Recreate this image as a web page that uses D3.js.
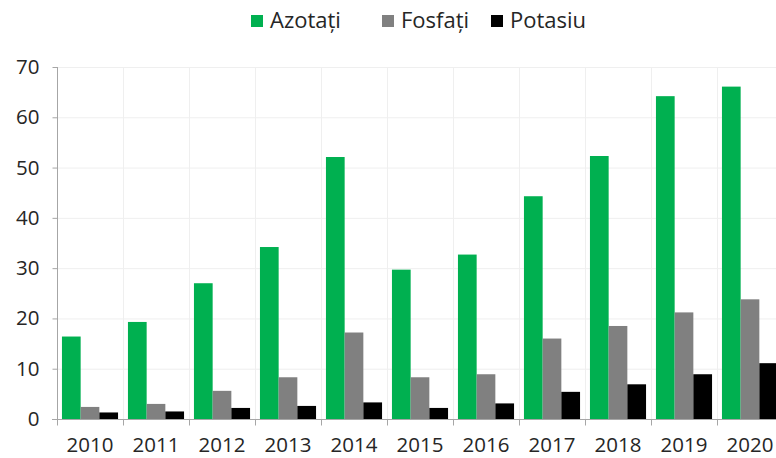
<!doctype html>
<html lang="ro">
<head>
    <meta charset="utf-8">
    <title>Îngrășăminte</title>
    <script src="https://d3js.org/d3.v7.min.js"></script>
    <style>
        body { margin: 0; background: #fff; }
        svg { display: block; font-family: "Open Sans", sans-serif; }
    </style>
</head>
<body>
    <script>
       // data
       let years = ['2010', '2011', '2012', '2013', '2014', '2015', '2016', '2017', '2018', '2019', '2020'];
       let seriesNames = ['Azotați', 'Fosfați', 'Potasiu'];
       let azotati = [16.4, 19.3, 27.0, 34.2, 52.1, 29.7, 32.7, 44.3, 52.3, 64.2, 66.1];
       let fosfati = [2.4, 3.0, 5.6, 8.3, 17.2, 8.3, 8.9, 16.0, 18.5, 21.2, 23.8];
       let potasiu = [1.3, 1.5, 2.2, 2.6, 3.3, 2.2, 3.1, 5.4, 6.9, 8.9, 11.1];
       let yTicks = [0, 10, 20, 30, 40, 50, 60, 70];
       let colors = ['#00b050', '#808080', '#000000'];

       let width = 776, height = 458;
       let plotLeft = 57, plotTop = 67, plotBottom = 419;
       let step = 66;

       let svg = d3.select('body').append('svg')
                   .attr('width', width).attr('height', height);

       let x = d3.scaleBand().domain(years)
                 .range([plotLeft, plotLeft + step * years.length])
                 .paddingInner(0).paddingOuter(0);
       let inner = d3.scaleBand().domain(seriesNames)
                 .range([0, x.bandwidth()]).paddingOuter(0.265).paddingInner(0);
       let y = d3.scaleLinear().domain([0, 70]).range([plotBottom, plotTop]);

       // grid
       svg.append('g').selectAll('line').data(yTicks.slice(1)).join('line')
          .attr('x1', plotLeft).attr('x2', width)
          .attr('y1', d => y(d) + 0.5).attr('y2', d => y(d) + 0.5)
          .attr('stroke', '#efefef').attr('stroke-width', 1);
       svg.append('g').selectAll('line').data(years.slice(1)).join('line')
          .attr('x1', d => x(d) + 0.5).attr('x2', d => x(d) + 0.5)
          .attr('y1', plotTop).attr('y2', plotBottom)
          .attr('stroke', '#efefef').attr('stroke-width', 1);

       // bars
       let table = years.map((yr, i) => ({
           year: yr,
           vals: [azotati[i], fosfati[i], potasiu[i]]
       }));
       let groups = svg.append('g').selectAll('g').data(table).join('g')
                       .attr('transform', d => `translate(${x(d.year)},0)`);
       groups.selectAll('rect')
             .data(d => d.vals.map((v, k) => ({ name: seriesNames[k], v: v, k: k })))
             .join('rect')
             .attr('x', d => inner(d.name))
             .attr('width', inner.bandwidth())
             .attr('y', d => y(d.v))
             .attr('height', d => y(0) - y(d.v))
             .attr('fill', d => colors[d.k]);

       // y axis
       let yAxis = d3.axisLeft(y).tickValues(yTicks).tickSize(5).tickPadding(13);
       let gy = svg.append('g').attr('transform', `translate(${plotLeft + 0.5},0)`).call(yAxis);
       gy.select('.domain').attr('stroke', '#a6a6a6').attr('d', `M0,${plotTop}V${plotBottom}`);
       gy.selectAll('.tick line').attr('stroke', '#a6a6a6');
       gy.selectAll('text').attr('font-size', 20.5).attr('fill', '#262626')
         .attr('font-family', '"Open Sans", sans-serif');

       // x axis
       let gx = svg.append('g').attr('transform', `translate(0,${plotBottom + 0.5})`);
       gx.append('line').attr('x1', plotLeft - 5).attr('x2', width)
         .attr('stroke', '#a6a6a6');
       gx.selectAll('.tk').data(years).join('line').attr('class', 'tk')
         .attr('x1', d => x(d) + 0.5).attr('x2', d => x(d) + 0.5)
         .attr('y1', 0).attr('y2', 6).attr('stroke', '#a6a6a6');
       gx.selectAll('text').data(years).join('text')
         .attr('x', d => x(d) + x.bandwidth() / 2)
         .attr('y', 32.5)
         .attr('text-anchor', 'middle')
         .attr('font-size', 20.5).attr('fill', '#262626')
         .text(d => d);

       // legend
       let legendX = [251, 382, 491];
       let lg = svg.append('g').selectAll('g').data(seriesNames).join('g')
                   .attr('transform', (d, i) => `translate(${legendX[i]},15)`);
       lg.append('rect').attr('width', 12).attr('height', 12)
         .attr('fill', (d, i) => colors[i]);
       lg.append('text').attr('x', 19).attr('y', 13)
         .attr('font-size', 22).attr('fill', '#262626')
         .text(d => d);
    </script>
</body>
</html>
